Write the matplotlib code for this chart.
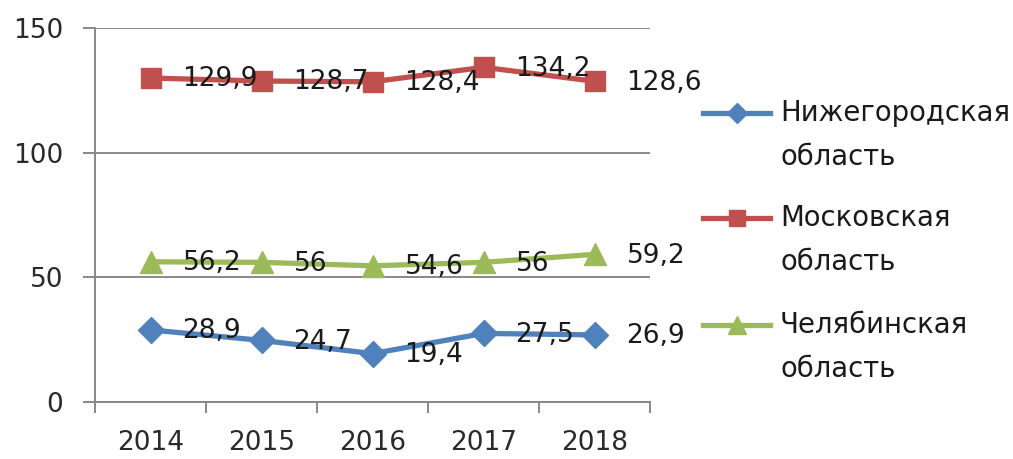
import matplotlib
matplotlib.use("Agg")
from matplotlib import pyplot as plt
from matplotlib.lines import Line2D

years = ["2014", "2015", "2016", "2017", "2018"]
nizhny = [28.9, 24.7, 19.4, 27.5, 26.9]
moscow = [129.9, 128.7, 128.4, 134.2, 128.6]
chelyab = [56.2, 56, 54.6, 56, 59.2]
series_names = ["Нижегородская\nобласть", "Московская\nобласть", "Челябинская\nобласть"]
y_ticks = [0, 50, 100, 150]

plt.rcParams['font.family'] = ['DejaVu Sans']
FS = 19

fig = plt.figure(figsize=(10.13, 4.59), dpi=100)
ax = fig.add_axes([0.0938, 0.1242, 0.548, 0.815])

styles = [
    (nizhny, "#4F81BD", "D", 13),
    (moscow, "#C0504D", "s", 15),
    (chelyab, "#9BBB59", "^", 16),
]
x = list(range(len(years)))
for vals, col, mk, ms in styles:
    ax.plot(x, vals, color=col, lw=3.8, marker=mk, markersize=ms,
            markerfacecolor=col, markeredgecolor=col, zorder=3)
    for xi, v in zip(x, vals):
        ax.annotate(f"{v:g}".replace(".", ","), (xi, v), xytext=(23, -1),
                    textcoords="offset points", ha="left", va="center",
                    fontsize=FS, color="#1a1a1a", zorder=4)

ax.set_xlim(-0.5, 4.5)
ax.set_ylim(0, 150)
ax.set_yticks(y_ticks)
ax.set_xticks(x)
ax.set_xticklabels(years)
ax.set_xticks([i - 0.5 for i in range(len(years) + 1)], minor=True)
ax.tick_params(axis="x", which="major", length=0, pad=20, labelsize=FS, colors="#2a2a2a")
ax.tick_params(axis="x", which="minor", length=8, width=1.4, color="#888888", direction="out")
ax.tick_params(axis="y", length=9, width=1.4, color="#888888", pad=14, labelsize=FS, labelcolor="#2a2a2a")
ax.yaxis.grid(True, color="#888888", lw=1.4)
ax.set_axisbelow(True)
for s in ["top", "right"]:
    ax.spines[s].set_visible(False)
for s in ["left", "bottom"]:
    ax.spines[s].set_color("#888888")
    ax.spines[s].set_linewidth(1.4)

# legend drawn by hand so the handle lines up with the first text line
leg_y = [113, 218, 325]
for (vals, col, mk, ms), name, yy in zip(styles, series_names, leg_y):
    fy = 1 - yy / 459
    fig.add_artist(Line2D([703 / 1013, 770 / 1013], [fy, fy], color=col, lw=3.8))
    fig.add_artist(Line2D([736.5 / 1013], [fy], color=col, marker=mk,
                          markersize=ms * 0.8, markerfacecolor=col, markeredgecolor=col))
    first, second = name.split("\n")
    fig.text(780 / 1013, fy, first, ha="left", va="center", fontsize=19.8, color="#1a1a1a")
    fig.text(780 / 1013, 1 - (yy + 44) / 459, second, ha="left", va="center", fontsize=19.8, color="#1a1a1a")

fig.savefig("out.png", dpi=100)
